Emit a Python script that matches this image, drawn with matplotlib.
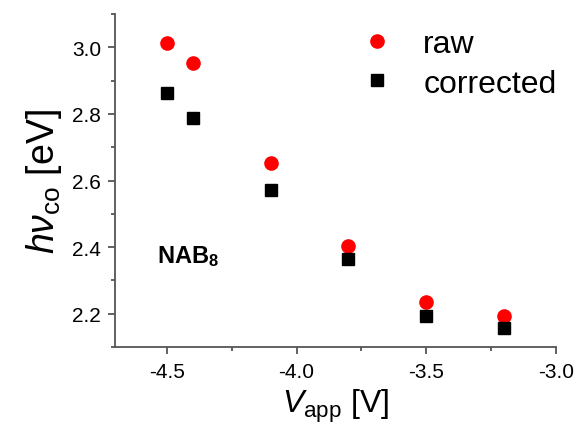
import matplotlib
matplotlib.use('Agg')
import matplotlib.pyplot as plt
from matplotlib.ticker import MultipleLocator

plt.rcParams['font.family'] = ['Liberation Sans', 'DejaVu Sans']
plt.rcParams['mathtext.fontset'] = 'custom'
plt.rcParams['mathtext.rm'] = 'Liberation Sans'
plt.rcParams['mathtext.it'] = 'Liberation Sans:italic'
plt.rcParams['mathtext.bf'] = 'Liberation Sans:bold'

v_app = [-4.5, -4.4, -4.1, -3.8, -3.5, -3.2]
raw = [3.014, 2.952, 2.654, 2.405, 2.235, 2.192]
corrected = [2.864, 2.789, 2.572, 2.364, 2.193, 2.157]

fig = plt.figure(figsize=(5.78, 4.39), dpi=100)
ax = fig.add_axes([0.199, 0.207, 0.763, 0.759])

ax.plot(v_app, raw, 'o', color='#ff0000', markersize=9.5, label='raw')
ax.plot(v_app, corrected, 's', color='black', markersize=8, label='corrected')

ax.set_xlim(-4.7, -3.0)
ax.set_ylim(2.1, 3.1)
ax.xaxis.set_minor_locator(MultipleLocator(0.25))
ax.yaxis.set_major_locator(MultipleLocator(0.2))
ax.yaxis.set_minor_locator(MultipleLocator(0.1))
ax.set_xticks([-4.5, -4.0, -3.5, -3.0])
ax.set_xticklabels(['-4.5', '-4.0', '-3.5', '-3.0'])

gray = '#555555'
ax.spines['top'].set_visible(False)
ax.spines['right'].set_visible(False)
for s in ['left', 'bottom']:
    ax.spines[s].set_color(gray)
    ax.spines[s].set_linewidth(1.3)
ax.tick_params(which='major', direction='out', length=5, width=1.3, color=gray,
               labelsize=15, pad=5)
ax.tick_params(which='minor', direction='out', length=3, width=1.3, color=gray)
ax.tick_params(axis='x', which='major', pad=6)

ax.set_xlabel(r'$V_{\rm app}$ [V]', fontsize=23, labelpad=4)
ax.set_ylabel(r'$h\nu_{\rm co}$ [eV]', fontsize=27, labelpad=6)

ax.text(-4.54, 2.354, r'$\mathbf{NAB_8}$', fontsize=17)

ax.legend(loc='upper right', frameon=False, fontsize=23, handletextpad=0.45,
          labelspacing=0.31, bbox_to_anchor=(1.03, 0.994), borderaxespad=0.0)

fig.savefig('out.png', dpi=100)
